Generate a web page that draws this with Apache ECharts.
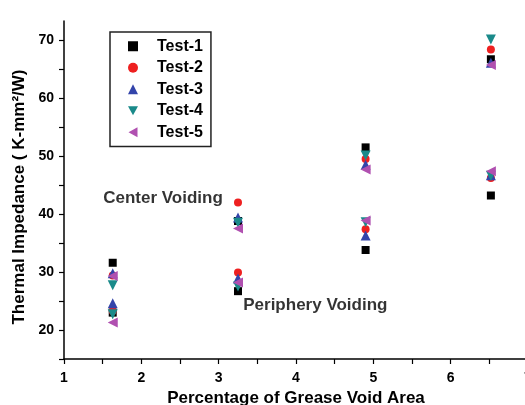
<!DOCTYPE html>
<html>
<head>
<meta charset="utf-8">
<script src="https://cdn.jsdelivr.net/npm/echarts@6/dist/echarts.min.js"></script>
<style>
  html, body { margin: 0; padding: 0; background: #fff; }
  #chart { width: 525px; height: 405px; }
</style>
</head>
<body>
<div id="chart"></div>
<script>
// void area (%) for the four samples
const voidArea = [1.63, 3.25, 4.9, 6.52]

// two readings per sample: upper cluster and lower cluster
const test1Upper = [31.6, 38.8, 51.5, 66.7]
const test1Lower = [23.0, 26.7, 33.8, 43.2]
const test2Upper = [29.4, 42.0, 49.5, 68.4]
const test2Lower = [23.3, 29.9, 37.4, 46.2]
const test3Upper = [29.8, 39.4, 48.5, 66.1]
const test3Lower = [24.6, 28.9, 36.3, 46.7]
const test4Upper = [27.7, 38.5, 50.1, 70.1]
const test4Lower = [22.7, 27.5, 38.6, 46.6]
const test5Upper = [29.3, 37.5, 47.7, 65.7]
const test5Lower = [21.3, 28.2, 38.9, 47.4]

const testNames = ['Test-1', 'Test-2', 'Test-3', 'Test-4', 'Test-5']
const yTickValues = [15, 20, 25, 30, 35, 40, 45, 50, 55, 60, 65, 70]
const yLabelValues = [20, 30, 40, 50, 60, 70]

const noteTexts = ['Center Voiding', 'Periphery Voiding']
const notePos = [[2.28, 42.8], [4.25, 24.3]]

const font = 'Arial, "Liberation Sans", sans-serif'

// down / left pointing triangles as paths so the legend gets them too
const triDown = 'path://M0,0L10,0L5,9Z'
const triLeft = 'path://M9,0L9,10L0,5Z'

function pairs(upper, lower) {
  const out = []
  voidArea.forEach((x, i) => {
    out.push([x, upper[i]])
    out.push([x, lower[i]])
  })
  return out
}

const seriesStyles = [
  { symbol: 'rect', size: 8, color: '#000000', data: pairs(test1Upper, test1Lower) },
  { symbol: 'circle', size: 8, color: '#ee2020', data: pairs(test2Upper, test2Lower) },
  { symbol: 'triangle', size: 10, color: '#3344aa', data: pairs(test3Upper, test3Lower) },
  { symbol: triDown, size: 10, color: '#1a8a8a', data: pairs(test4Upper, test4Lower) },
  { symbol: triLeft, size: 10, color: '#b050b0', data: pairs(test5Upper, test5Lower) }
]

const chart = echarts.init(document.getElementById('chart'))

chart.setOption({
  animation: false,
  textStyle: { fontFamily: font },
  grid: {
    left: 64,
    right: -3,
    top: 21,
    bottom: 46,
    outerBoundsMode: 'none'
  },
  legend: {
    data: testNames.map((n, i) => ({ name: n, icon: seriesStyles[i].symbol })),
    orient: 'vertical',
    left: 110,
    top: 32,
    padding: [6, 8, 6, 18],
    itemWidth: 10,
    itemHeight: 10,
    itemGap: 5,
    borderColor: '#222',
    borderWidth: 1.5,
    borderRadius: 0,
    textStyle: {
      fontFamily: font,
      fontSize: 16,
      fontWeight: 'bold',
      color: '#000',
      lineHeight: 16.5,
      padding: [0, 0, 0, 14]
    }
  },
  xAxis: {
    type: 'value',
    min: 1,
    max: 7,
    interval: 0.5,
    name: 'Percentage of Grease Void Area',
    nameLocation: 'middle',
    nameGap: 30,
    nameTextStyle: { fontFamily: font, fontSize: 17, fontWeight: 'bold', color: '#000' },
    axisLine: { show: true, lineStyle: { color: '#000', width: 1.5 } },
    axisTick: { show: true, length: 5, lineStyle: { color: '#000', width: 1.2 } },
    axisLabel: {
      margin: 12,
      fontFamily: font,
      fontSize: 14,
      fontWeight: 'bold',
      color: '#000',
      showMaxLabel: true,
      hideOverlap: false,
      formatter: (v) => (Number.isInteger(v) ? String(v) : '')
    },
    splitLine: { show: false }
  },
  yAxis: {
    type: 'value',
    min: 15,
    max: 73.3,
    name: 'Thermal Impedance ( K-mm²/W)',
    nameLocation: 'middle',
    nameGap: 33,
    nameTextStyle: {
      fontFamily: font,
      fontSize: 17,
      fontWeight: 'bold',
      color: '#000',
      padding: [0, 14, 0, 0]
    },
    axisLine: { show: true, lineStyle: { color: '#000', width: 1.5 } },
    axisTick: {
      show: true,
      length: 5,
      customValues: yTickValues,
      lineStyle: { color: '#000', width: 1.2 }
    },
    axisLabel: {
      margin: 10,
      fontFamily: font,
      fontSize: 14,
      fontWeight: 'bold',
      color: '#000',
      customValues: yLabelValues
    },
    splitLine: { show: false }
  },
  series: [
    ...seriesStyles.map((s, i) => ({
      name: testNames[i],
      type: 'scatter',
      symbol: s.symbol,
      symbolSize: s.size,
      itemStyle: { color: s.color, opacity: 1 },
      data: s.data
    })),
    {
      name: 'notes',
      type: 'scatter',
      silent: true,
      symbolSize: 0,
      data: noteTexts.map((t, i) => ({ name: t, value: notePos[i] })),
      label: {
        show: true,
        position: [0, 0],
        align: 'center',
        verticalAlign: 'middle',
        formatter: (p) => p.name,
        fontFamily: font,
        fontSize: 17,
        fontWeight: 'bold',
        color: '#000'
      }
    }
  ]
})
</script>
</body>
</html>
